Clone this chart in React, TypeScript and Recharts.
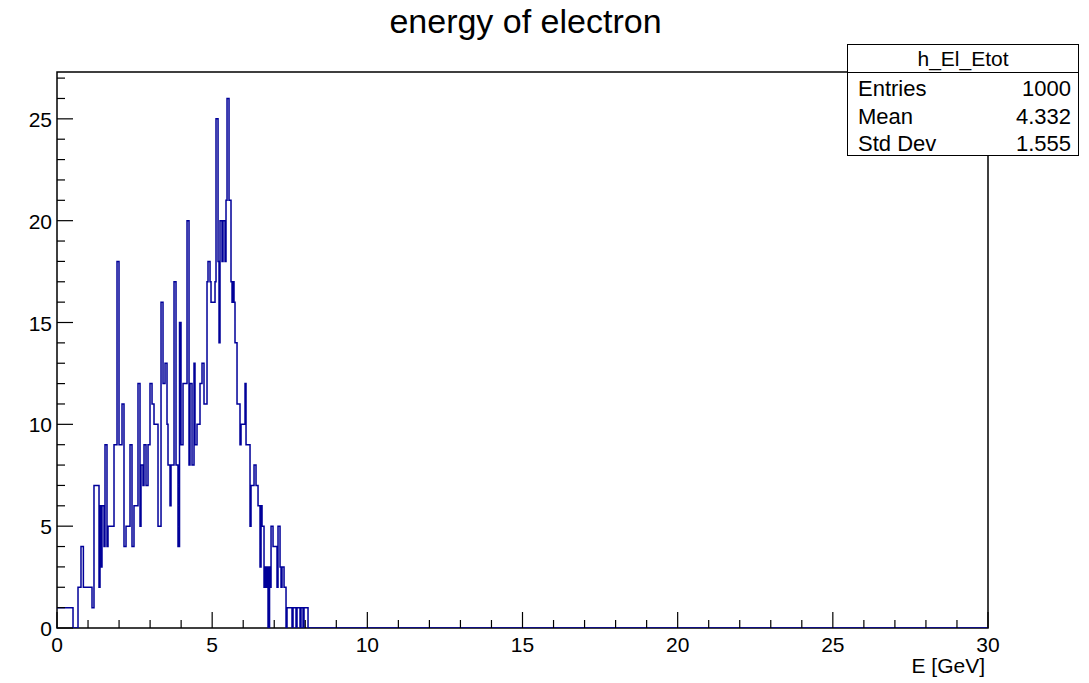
import React from 'react';
import { LineChart, Line, XAxis, YAxis, ReferenceArea } from 'recharts';

// step edges (GeV) where the histogram level changes
const edges = [
  0, 0.516, 0.677, 0.773, 0.85, 1.128, 1.192, 1.354, 1.386, 1.418, 1.45, 1.515, 1.547, 1.611, 1.644,
  1.837, 1.934, 1.998, 2.095, 2.159, 2.224, 2.353, 2.417, 2.481, 2.61, 2.675, 2.707, 2.771, 2.804,
  2.868, 2.933, 2.997, 3.062, 3.126, 3.255, 3.352, 3.416, 3.481, 3.545, 3.577, 3.642, 3.674, 3.771,
  3.835, 3.899, 3.948, 3.996, 4.061, 4.19, 4.254, 4.286, 4.351, 4.415, 4.447, 4.512, 4.608, 4.673,
  4.737, 4.834, 4.866, 4.931, 4.963, 5.092, 5.124, 5.189, 5.221, 5.253, 5.317, 5.35, 5.414, 5.446,
  5.479, 5.543, 5.607, 5.64, 5.672, 5.704, 5.736, 5.801, 5.897, 5.93, 6.059, 6.091, 6.22, 6.252,
  6.349, 6.413, 6.478, 6.542, 6.575, 6.607, 6.671, 6.704, 6.736, 6.768, 6.8, 6.849, 6.865, 6.897,
  6.961, 7.09, 7.122, 7.187, 7.219, 7.251, 7.316, 7.38, 7.412, 7.573, 7.606, 7.702, 7.734, 7.831,
  7.863, 7.928, 7.96, 8.089, 30,
];
const counts = [
  1, 0, 2, 4, 2, 1, 7, 2, 6, 3, 6, 4, 9, 4, 5,
  9, 18, 9, 11, 4, 5, 9, 4, 6, 12, 5, 8, 7, 9,
  7, 9, 12, 11, 10, 5, 16, 12, 13, 10, 8, 6, 8, 17,
  8, 4, 15, 9, 12, 20, 8, 12, 8, 13, 9, 10, 12, 13,
  11, 17, 18, 17, 16, 17, 25, 18, 14, 20, 18, 20, 18, 21,
  26, 21, 17, 16, 17, 16, 14, 11, 9, 10, 12, 9, 5, 7,
  8, 7, 6, 3, 6, 5, 2, 3, 2, 3, 0, 3, 2, 5,
  4, 2, 5, 3, 2, 3, 2, 0, 1, 0, 1, 0, 1, 0,
  1, 0, 1, 0, 0,
];

const xTicks = Array.from({ length: 31 }, (_, i) => i);
const yTicks = Array.from({ length: 28 }, (_, i) => i);

const statsRows = [
  ['Entries', '1000'],
  ['Mean', '4.332'],
  ['Std Dev', '1.555'],
];

const histData = edges.map((e, i) => ({ e, n: counts[i] }));

const FONT = '"Liberation Sans", Arial, Helvetica, sans-serif';

const XTick = (props: any) => {
  const { x, y, payload } = props;
  const major = payload.value % 5 === 0;
  return (
    <g>
      <line x1={x} x2={x} y1={y} y2={y - (major ? 16 : 8)} stroke="#000" strokeWidth={1.2} />
      {major && (
        <text x={x} y={y + 24} textAnchor="middle" fontSize={21} fontFamily={FONT} fill="#000">
          {payload.value}
        </text>
      )}
    </g>
  );
};

const YTick = (props: any) => {
  const { x, y, payload } = props;
  const major = payload.value % 5 === 0;
  return (
    <g>
      <line x1={x} x2={x + (major ? 16 : 8)} y1={y} y2={y} stroke="#000" strokeWidth={1.2} />
      {major && (
        <text x={x - 5} y={y + 8} textAnchor="end" fontSize={21} fontFamily={FONT} fill="#000">
          {payload.value}
        </text>
      )}
    </g>
  );
};

export default function App() {
  return (
    <div style={{ position: 'absolute', left: 0, top: 0, width: 1089, height: 683, background: '#fff', fontFamily: FONT }}>
      <LineChart
        width={1089}
        height={683}
        data={histData}
        margin={{ top: 72, right: 101, bottom: 25, left: 7 }}
      >
        <XAxis
          dataKey="e"
          type="number"
          domain={[0, 30]}
          ticks={xTicks}
          interval={0}
          height={30}
          tickSize={0}
          tickMargin={0}
          axisLine={false}
          tick={<XTick />}
          allowDataOverflow
        />
        <YAxis
          type="number"
          domain={[0, 27.3]}
          ticks={yTicks}
          interval={0}
          width={50}
          tickSize={0}
          tickMargin={0}
          axisLine={false}
          tick={<YTick />}
          allowDataOverflow
        />
        <ReferenceArea x1={0} x2={30} y1={0} y2={27.3} fill="none" stroke="#000" strokeWidth={1.5} />
        <Line
          type="stepAfter"
          dataKey="n"
          stroke="#000099"
          strokeWidth={1.5}
          dot={false}
          isAnimationActive={false}
        />
      </LineChart>

      <div style={{ position: 'absolute', left: 0, width: 1051, top: 4, textAlign: 'center', fontSize: 34, lineHeight: '34px', color: '#000' }}>
        energy of electron
      </div>

      <div style={{ position: 'absolute', right: 104, top: 655, fontSize: 21, lineHeight: '21px', color: '#000' }}>
        E [GeV]
      </div>

      <div
        style={{
          position: 'absolute', left: 847, top: 44, width: 230, height: 110,
          border: '1.5px solid #000', background: '#fff', color: '#000', fontSize: 22,
        }}
      >
        <div style={{ height: 27, borderBottom: '1.5px solid #000', textAlign: 'center', lineHeight: '28px', fontSize: 21 }}>
          h_El_Etot
        </div>
        {statsRows.map(([k, v]) => (
          <div key={k} style={{ display: 'flex', justifyContent: 'space-between', padding: '0 7px 0 10px', height: 27.5, lineHeight: '31px' }}>
            <span>{k}</span>
            <span>{v}</span>
          </div>
        ))}
      </div>
    </div>
  );
}
